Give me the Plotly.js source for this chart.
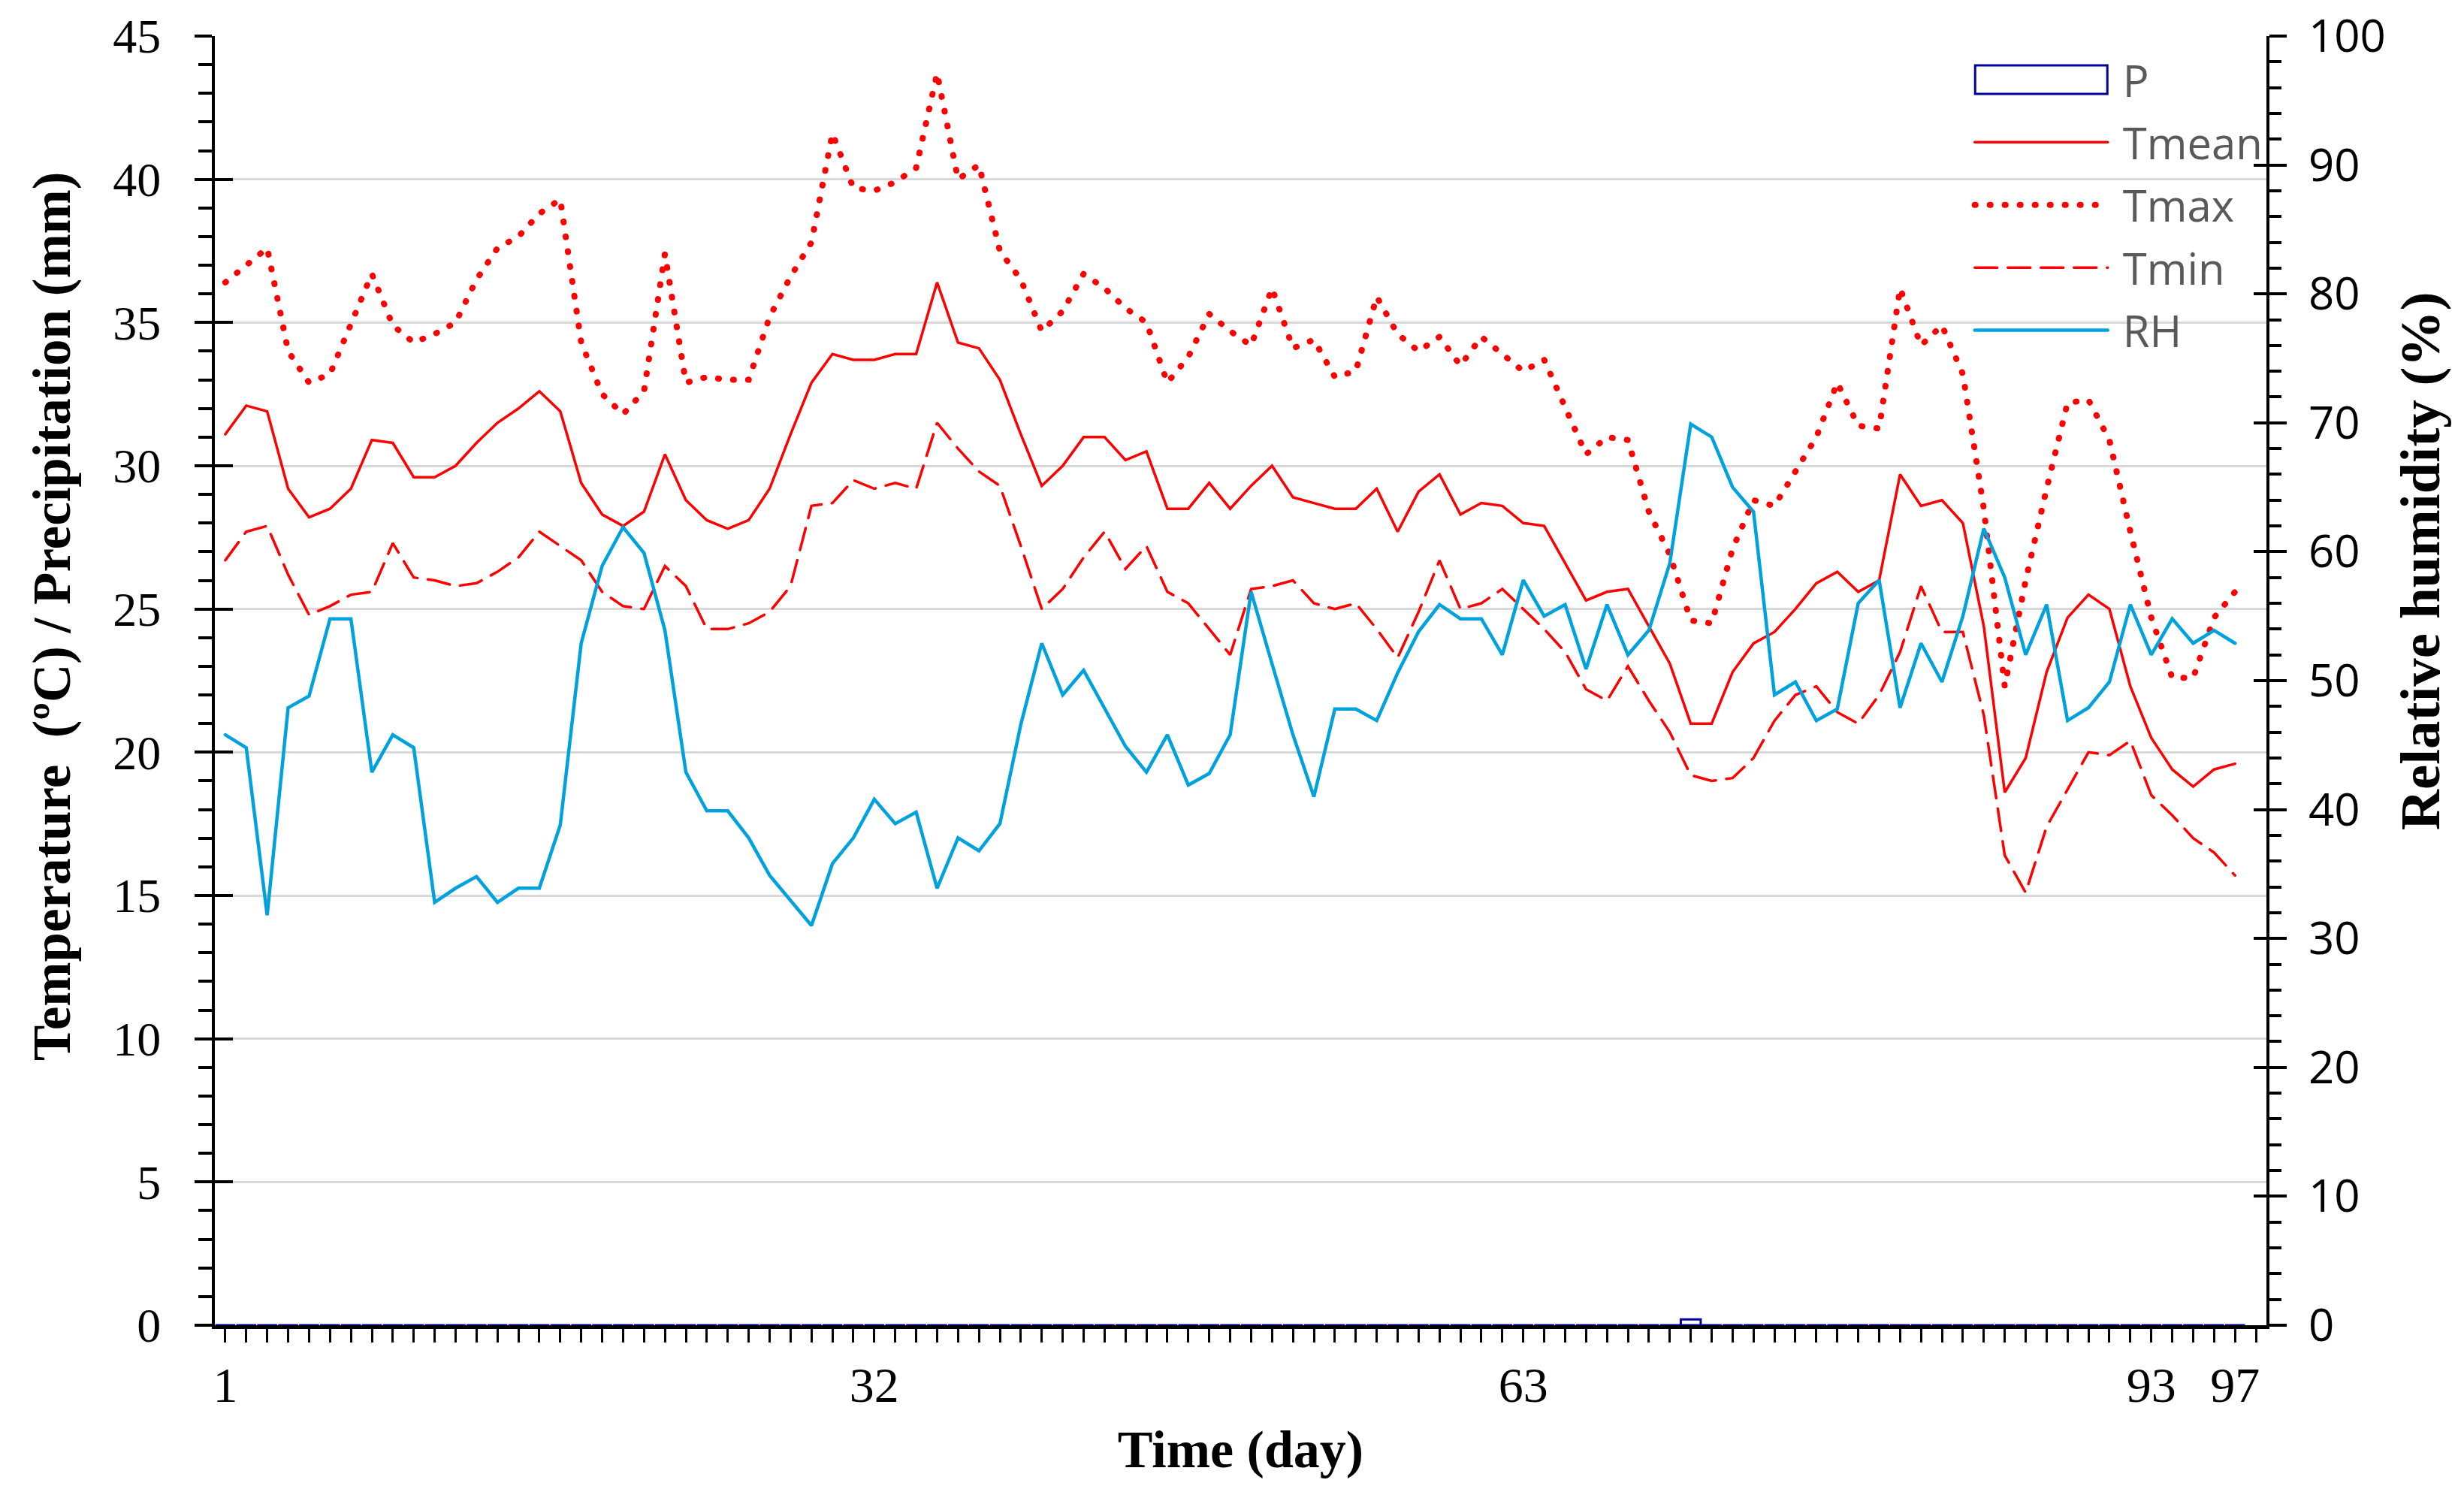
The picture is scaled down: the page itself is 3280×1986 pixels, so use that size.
<!DOCTYPE html>
<html>
<head>
<meta charset="utf-8">
<script src="https://cdn.plot.ly/plotly-3.0.1.min.js"></script>
<style>
  html, body { margin: 0; padding: 0; background: #ffffff; }
  #chart { width: 3280px; height: 1986px; }
  .js-line, .legendlines path { stroke-linecap: round; }
</style>
</head>
<body>
<div id="chart"></div>
<script>
// ---- data ----
const days = Array.from({length: 97}, (_, i) => i + 1);

const precip = [0,0,0,0,0,0,0,0,0,0, 0,0,0,0,0,0,0,0,0,0, 0,0,0,0,0,0,0,0,0,0,
  0,0,0,0,0,0,0,0,0,0, 0,0,0,0,0,0,0,0,0,0, 0,0,0,0,0,0,0,0,0,0,
  0,0,0,0,0,0,0,0,0,0, 0.2,0,0,0,0,0,0,0,0,0, 0,0,0,0,0,0,0,0,0,0, 0,0,0,0,0,0,0];

const tmean = [31.1,32.1,31.9,29.2,28.2,28.5,29.2,30.9,30.8,29.6,
  29.6,30.0,30.8,31.5,32.0,32.6,31.9,29.4,28.3,27.9,
  28.4,30.4,28.8,28.1,27.8,28.1,29.2,31.1,32.9,33.9,
  33.7,33.7,33.9,33.9,36.4,34.3,34.1,33.0,31.1,29.3,
  30.0,31.0,31.0,30.2,30.5,28.5,28.5,29.4,28.5,29.3,
  30.0,28.9,28.7,28.5,28.5,29.2,27.7,29.1,29.7,28.3,
  28.7,28.6,28.0,27.9,26.6,25.3,25.6,25.7,24.4,23.1,
  21.0,21.0,22.8,23.8,24.2,25.0,25.9,26.3,25.6,26.0,
  29.7,28.6,28.8,28.0,24.4,18.6,19.8,22.8,24.7,25.5,
  25.0,22.3,20.5,19.4,18.8,19.4,19.6];

const tmax = [36.4,37.0,37.6,34.0,32.9,33.2,35.0,36.7,34.9,34.3,
  34.6,35.0,36.5,37.6,38.0,38.8,39.3,34.3,32.5,31.8,
  32.6,37.4,32.9,33.1,33.0,33.0,35.2,36.6,37.8,41.6,
  39.7,39.6,39.9,40.4,43.7,40.0,40.5,37.5,36.5,34.7,
  35.4,36.7,36.2,35.5,35.0,32.9,33.8,35.3,34.7,34.2,
  36.2,34.1,34.4,33.1,33.3,35.9,34.6,34.0,34.5,33.5,
  34.5,33.9,33.3,33.7,32.0,30.4,31.0,30.9,28.4,26.9,
  24.6,24.5,27.1,28.8,28.6,29.8,31.0,32.9,31.4,31.3,
  36.2,34.2,34.9,33.2,28.5,22.3,26.0,29.2,32.2,32.3,
  30.9,27.7,24.7,22.6,22.6,24.7,25.6];

const tmin = [26.7,27.7,27.9,26.2,24.8,25.1,25.5,25.6,27.3,26.1,
  26.0,25.8,25.9,26.3,26.8,27.7,27.2,26.7,25.6,25.1,
  25.0,26.5,25.8,24.3,24.3,24.5,24.9,25.8,28.6,28.7,
  29.5,29.2,29.4,29.2,31.5,30.6,29.8,29.3,27.2,25.0,
  25.7,26.8,27.7,26.4,27.2,25.6,25.2,24.3,23.4,25.7,
  25.8,26.0,25.2,25.0,25.2,24.3,23.3,24.9,26.7,25.0,
  25.2,25.7,25.0,24.3,23.5,22.2,21.8,23.0,21.8,20.7,
  19.2,19.0,19.1,19.8,21.1,22.0,22.3,21.4,21.0,22.0,
  23.5,25.8,24.2,24.2,21.3,16.4,15.1,17.4,18.7,20.0,
  19.9,20.4,18.5,17.8,17.0,16.5,15.7];

const rh = [45.8,44.8,31.8,47.9,48.8,54.8,54.8,42.9,45.8,44.8,
  32.8,33.9,34.8,32.8,33.9,33.9,38.8,52.9,58.9,61.9,
  59.9,53.9,42.9,39.9,39.9,37.8,34.9,33.0,31.0,35.8,
  37.8,40.8,38.9,39.8,33.9,37.8,36.8,38.9,46.6,52.9,
  48.9,50.8,47.8,44.9,42.9,45.8,41.9,42.8,45.8,56.9,
  51.3,45.8,41.0,47.8,47.8,46.9,50.6,53.8,55.9,54.8,
  54.8,52.0,57.8,55.0,55.9,50.9,55.9,52.0,53.9,59.1,
  69.9,68.9,65.0,63.1,48.9,49.9,46.9,47.8,56.0,57.8,
  47.9,52.9,49.9,55.0,61.8,58.0,52.0,55.9,46.9,47.9,
  49.9,55.9,52.0,54.8,52.9,53.9,52.9];

const seriesNames = ['P', 'Tmean', 'Tmax', 'Tmin', 'RH'];
const xLabelDays = [1, 32, 63, 93, 97];
const xTickDays = Array.from({length: 98}, (_, i) => i + 1);

// ---- chart ----
const RED = '#ff0000';
const BLUE = '#00a2de';
const serif = 'Liberation Serif, Times New Roman, serif';
const sans = 'Open Sans, Liberation Sans, sans-serif';
const NB = '\u00a0';
const legendName = n => NB + n;

const traces = [
  {type: 'bar', name: legendName(seriesNames[0]), legendgroup: 'g0', x: days, y: precip, width: 0.95,
   marker: {color: 'rgba(255,255,255,0)', line: {color: '#00009c', width: 3}}},
  {type: 'scatter', mode: 'lines', name: legendName(seriesNames[1]), legendgroup: 'g1', x: days, y: tmean,
   line: {color: RED, width: 3.5}},
  {type: 'scatter', mode: 'lines', name: legendName(seriesNames[2]), legendgroup: 'g2', x: days, y: tmax,
   line: {color: RED, width: 8, dash: '1px,19px'}},
  {type: 'scatter', mode: 'lines', name: legendName(seriesNames[3]), legendgroup: 'g3', x: days, y: tmin,
   line: {color: RED, width: 3.5, dash: '30px,14px'}},
  {type: 'scatter', mode: 'lines', name: legendName(seriesNames[4]), legendgroup: 'g4', x: days, y: rh, yaxis: 'y2',
   line: {color: BLUE, width: 4.5}}
];

const layout = {
  width: 3280, height: 1986,
  margin: {l: 286, r: 263, t: 48, b: 222, pad: 0},
  paper_bgcolor: '#ffffff', plot_bgcolor: '#ffffff',
  showlegend: true,
  bargap: 0,
  legend: {
    x: 0.856, y: 0.992, xanchor: 'left', yanchor: 'top',
    bgcolor: 'rgba(0,0,0,0)', borderwidth: 0,
    font: {family: sans, size: 58, color: '#595959'},
    itemwidth: 177, traceorder: 'grouped', tracegroupgap: 5
  },
  xaxis: {
    range: [0.5, 98.5], showgrid: false, zeroline: false,
    tickmode: 'array', tickvals: xTickDays,
    ticktext: xTickDays.map(d => xLabelDays.includes(d) ? String(d) : ''),
    ticks: 'outside', ticklen: 18, tickwidth: 3, tickcolor: '#000',
    showline: true, linewidth: 5, linecolor: '#000',
    tickfont: {family: serif, size: 66, color: '#000'},
    ticklabelstandoff: 0,
    title: {text: '<b>Time (day)</b>', font: {family: serif, size: 70, color: '#000'}, standoff: 26}
  },
  yaxis: {
    range: [0, 45], tick0: 0, dtick: 5, zeroline: false,
    showgrid: true, gridcolor: '#d9d9d9', gridwidth: 3,
    ticks: 'outside', ticklen: 23, tickwidth: 4, tickcolor: '#000',
    minor: {dtick: 1, ticks: 'outside', ticklen: 18, tickwidth: 4, tickcolor: '#000', showgrid: false},
    showline: true, linewidth: 4, linecolor: '#000',
    tickfont: {family: serif, size: 64, color: '#000'},
    ticklabelstandoff: 32
  },
  yaxis2: {
    overlaying: 'y', side: 'right', anchor: 'x',
    range: [0, 100], tick0: 0, dtick: 10, zeroline: false, showgrid: false,
    ticks: 'outside', ticklen: 23, tickwidth: 4, tickcolor: '#000',
    minor: {dtick: 2, ticks: 'outside', ticklen: 16, tickwidth: 4, tickcolor: '#000', showgrid: false},
    showline: true, linewidth: 4, linecolor: '#000',
    tickfont: {family: sans, size: 60, color: '#000'},
    ticklabelstandoff: 17
  },
  yaxis3: {
    overlaying: 'y', side: 'left', anchor: 'x',
    range: [0, 45], tick0: 0, dtick: 5, zeroline: false, showgrid: false,
    ticks: 'inside', ticklen: 24, tickwidth: 4, tickcolor: '#000',
    showticklabels: false, showline: false
  },
  yaxis4: {
    overlaying: 'y', side: 'right', anchor: 'x',
    range: [0, 100], tick0: 0, dtick: 10, zeroline: false, showgrid: false,
    ticks: 'inside', ticklen: 17, tickwidth: 4, tickcolor: '#000',
    showticklabels: false, showline: false
  },
  annotations: [
    {text: '<b>Temperature  (ºC) / Precipitation (mm)</b>', xref: 'paper', yref: 'paper',
     x: -0.0795, y: 0.550, xanchor: 'center', yanchor: 'middle', textangle: -90, showarrow: false,
     font: {family: serif, size: 71, color: '#000'}},
    {text: '<b>Relative humidity (%)</b>', xref: 'paper', yref: 'paper',
     x: 1.075, y: 0.593, xanchor: 'center', yanchor: 'middle', textangle: -90, showarrow: false,
     font: {family: serif, size: 75, color: '#000'}}
  ]
};

// empty helper traces so the tick-only overlay axes are drawn
traces.push({type: 'scatter', mode: 'lines', x: [], y: [], yaxis: 'y3', showlegend: false, hoverinfo: 'skip'});
traces.push({type: 'scatter', mode: 'lines', x: [], y: [], yaxis: 'y4', showlegend: false, hoverinfo: 'skip'});

function widenBarSwatch(gd) {
  const groups = gd.querySelectorAll('.legend .traces');
  groups.forEach(g => {
    const txt = g.querySelector('text.legendtext');
    if (txt && txt.textContent.trim() === seriesNames[0]) {
      g.querySelectorAll('.legendpoints path').forEach(p => {
        p.setAttribute('d', 'M-88,-19h176v38h-176Z');
      });
    }
  });
}

Plotly.newPlot('chart', traces, layout, {staticPlot: true, displayModeBar: false}).then(gd => {
  widenBarSwatch(gd);
  gd.on && gd.on('plotly_afterplot', () => widenBarSwatch(gd));
  setTimeout(() => widenBarSwatch(gd), 300);
});
</script>
</body>
</html>
